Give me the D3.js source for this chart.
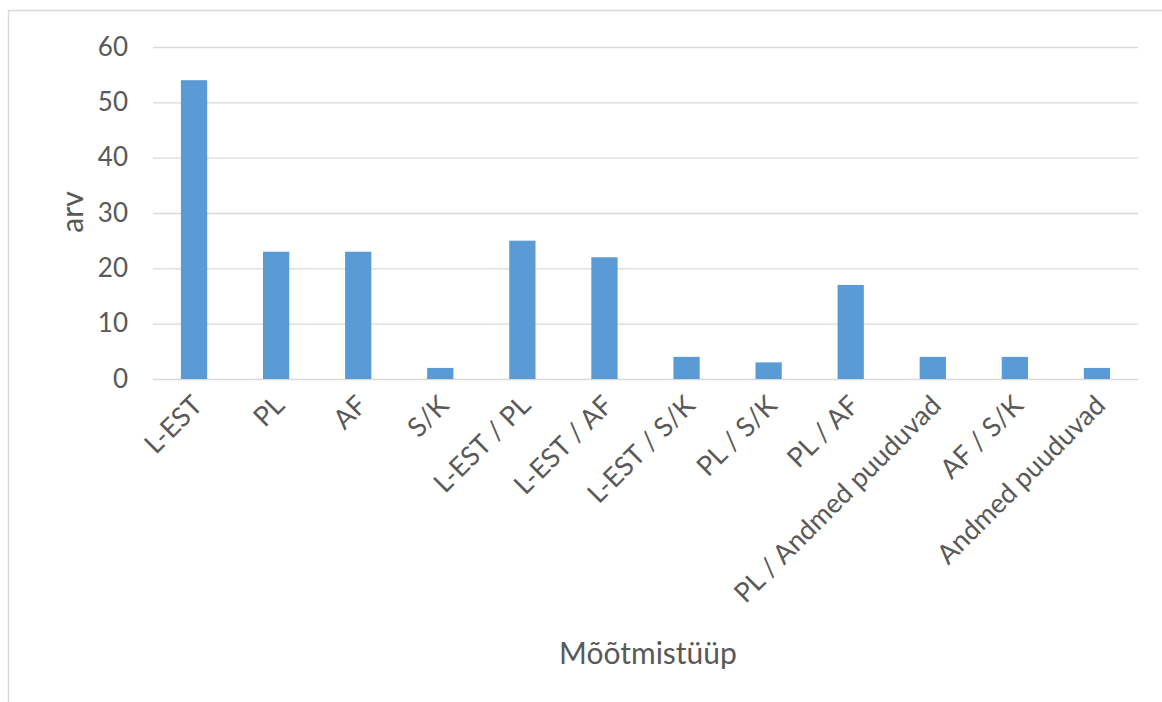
<!DOCTYPE html>
<html>
<head>
<meta charset="utf-8">
<script src="https://cdn.jsdelivr.net/npm/d3@7"></script>
<style>
  body { margin: 0; background: #fff; }
  svg { display: block; font-family: Lato, "Noto Sans", sans-serif; }
</style>
</head>
<body>
<svg id="chart" width="1162" height="702"></svg>
<script>
// Measurement types and their counts
const categories = [
  "L-EST", "PL", "AF", "S/K", "L-EST / PL", "L-EST / AF", "L-EST / S/K",
  "PL / S/K", "PL / AF", "PL / Andmed puuduvad", "AF / S/K", "Andmed puuduvad"
];
const counts = [54, 23, 23, 2, 25, 22, 4, 3, 17, 4, 4, 2];
const yTicks = [0, 10, 20, 30, 40, 50, 60];
const xTitle = "Mõõtmistüüp";
const yTitle = "arv";

const FONT = "Lato, sans-serif";
const svg = d3.select("#chart");
const plot = { left: 153, right: 1138, top: 47, bottom: 379 };

// chart frame
svg.append("rect")
  .attr("x", 8.5).attr("y", 10.5)
  .attr("width", 1200).attr("height", 800)
  .attr("fill", "none").attr("stroke", "#d9d9d9").attr("stroke-width", 1.5);

const x = d3.scaleBand()
  .domain(categories)
  .range([plot.left, plot.right])
  .paddingInner(0.68).paddingOuter(0.34);

const y = d3.scaleLinear().domain([0, 60]).range([plot.bottom, plot.top]);

// horizontal gridlines + y labels
const yAxis = svg.append("g")
  .attr("transform", `translate(${plot.left},0)`)
  .call(d3.axisLeft(y).tickValues(yTicks).tickSize(-(plot.right - plot.left)).tickPadding(25));
yAxis.select(".domain").remove();
yAxis.selectAll(".tick line").attr("stroke", "#d9d9d9").attr("stroke-width", 1.3);
yAxis.selectAll(".tick text")
  .attr("fill", "#595959").attr("font-size", 26).attr("font-family", FONT);

// bars
svg.append("g").selectAll("rect")
  .data(categories.map((c, i) => ({ c, v: counts[i] })))
  .join("rect")
  .attr("x", d => x(d.c))
  .attr("y", d => y(d.v))
  .attr("width", x.bandwidth())
  .attr("height", d => y(0) - y(d.v))
  .attr("fill", "#5b9bd5");

// x category labels, slanted
const xAxis = svg.append("g")
  .attr("transform", `translate(0,${plot.bottom})`)
  .call(d3.axisBottom(x).tickSize(0).tickPadding(0));
xAxis.select(".domain").remove();
xAxis.selectAll(".tick text")
  .attr("fill", "#595959").attr("font-size", 27).attr("font-family", FONT)
  .attr("text-anchor", "end")
  .attr("dy", null)
  .attr("transform", "translate(10,28) rotate(-45)");

// axis titles
svg.append("text")
  .attr("x", 648).attr("y", 664)
  .attr("text-anchor", "middle")
  .attr("fill", "#595959").attr("font-size", 30).attr("font-family", FONT)
  .text(xTitle);

svg.append("text")
  .attr("transform", "translate(83,212) rotate(-90)")
  .attr("text-anchor", "middle")
  .attr("fill", "#595959").attr("font-size", 30).attr("font-family", FONT)
  .text(yTitle);
</script>
</body>
</html>
